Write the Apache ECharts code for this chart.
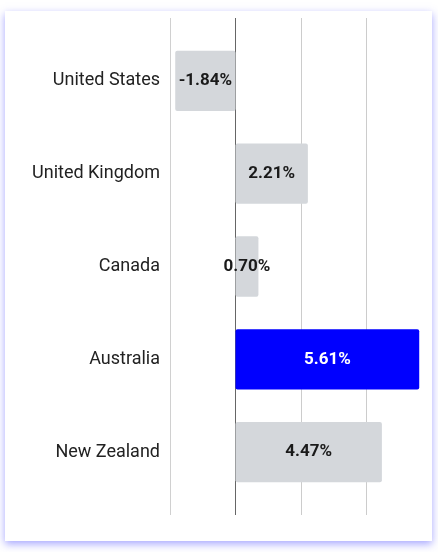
<!DOCTYPE html>
<html>
<head>
<meta charset="utf-8">
<script src="https://cdn.jsdelivr.net/npm/echarts@6/dist/echarts.min.js"></script>
<style>
html,body{margin:0;padding:0;background:#fff;width:438px;height:552px;overflow:hidden;}
#card{position:absolute;left:5px;top:11px;width:427px;height:530px;background:#fff;
box-shadow:0 3px 8px rgba(80,80,255,0.5);}
#chart{width:427px;height:530px;}
</style>
</head>
<body>
<div id="card"><div id="chart"></div></div>
<script>
const categories = ["United States", "United Kingdom", "Canada", "Australia", "New Zealand"];
const values = [-1.84, 2.21, 0.70, 5.61, 4.47];
const highlight = "Australia";
const xMin = -2, xMax = 6, xStep = 2;

const chart = echarts.init(document.getElementById('chart'), null, {renderer: 'canvas'});
const data = values.map((v, i) => ({
  value: v,
  itemStyle: {color: categories[i] === highlight ? '#0000ff' : '#d4d7db'},
  label: {color: categories[i] === highlight ? '#ffffff' : '#1a1a1a'}
}));
chart.setOption({
  animation: false,
  grid: [
    {left: 165, right: 0, top: 7, bottom: 26},
    {left: 165, right: 0, top: 23.5, bottom: 42.5}
  ],
  xAxis: [{
    gridIndex: 0, type: 'value', min: xMin, max: xMax, interval: xStep,
    axisLabel: {show: false}, axisLine: {show: false}, axisTick: {show: false},
    splitLine: {show: true, lineStyle: {color: ['#d0d0d0', '#666666', '#cccccc', '#cccccc', '#cccccc'], width: 1}}
  }, {
    gridIndex: 1, type: 'value', min: xMin, max: xMax, interval: xStep,
    axisLabel: {show: false}, axisLine: {show: false}, axisTick: {show: false},
    splitLine: {show: false}
  }],
  yAxis: [{
    gridIndex: 0, type: 'category', data: categories, show: false
  }, {
    gridIndex: 1, type: 'category', data: categories, inverse: true,
    axisLine: {show: false},
    axisTick: {show: false},
    axisLabel: {color: '#222222', fontFamily: 'Roboto', fontSize: 18, margin: 10}
  }],
  series: [{
    type: 'bar',
    xAxisIndex: 1, yAxisIndex: 1,
    data: data,
    barWidth: '65%',
    itemStyle: {borderRadius: 2},
    label: {
      show: true, position: 'inside',
      fontFamily: 'Roboto', fontWeight: 'bold', fontSize: 17,
      formatter: p => p.value.toFixed(2) + '%'
    },
    z: 3
  }]
});
</script>
</body>
</html>
